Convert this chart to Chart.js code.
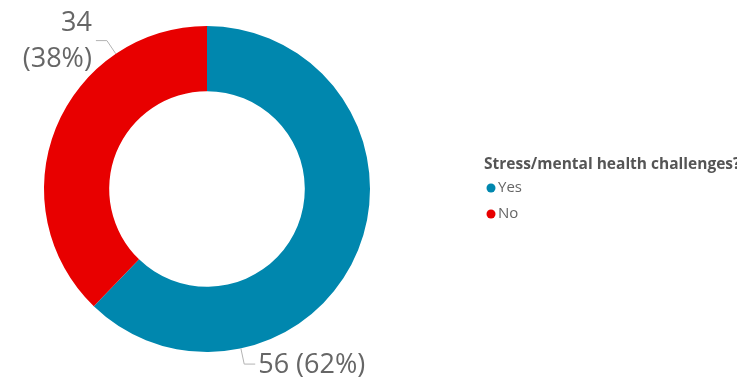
<!DOCTYPE html>
<html>
<head>
<meta charset="utf-8">
<script src="https://cdn.jsdelivr.net/npm/chart.js@4/dist/chart.umd.min.js"></script>
<style>
  html, body { margin: 0; padding: 0; background: #fff; }
  #wrap { position: relative; width: 737px; height: 385px; overflow: hidden; }
</style>
</head>
<body>
<div id="wrap"><canvas id="chart" width="737" height="385"></canvas></div>
<script>
// Survey answers
const legendTitle = 'Stress/mental health challenges?';
const categories = ['Yes', 'No'];
const counts = [56, 34];
const colors = ['#0087AE', '#E80000'];

const FONT = "'Segoe UI', 'Open Sans', sans-serif";
const LABEL_COLOR = '#666666';

// Data labels with short elbow leader lines
const sliceLabels = {
    id: 'sliceLabels',
    afterDatasetsDraw(chart) {
        const ctx = chart.ctx;
        const meta = chart.getDatasetMeta(0);
        const total = counts.reduce((a, b) => a + b, 0);
        ctx.save();
        ctx.font = '27px ' + FONT;
        ctx.fillStyle = LABEL_COLOR;
        ctx.strokeStyle = '#b3b3b3';
        ctx.lineWidth = 1;
        meta.data.forEach((arc, i) => {
            const p = arc.getProps(['x', 'y', 'startAngle', 'endAngle', 'outerRadius'], true);
            const a = p.startAngle + 0.75 * (p.endAngle - p.startAngle);
            const x0 = p.x + Math.cos(a) * p.outerRadius;
            const y0 = p.y + Math.sin(a) * p.outerRadius;
            const x1 = p.x + Math.cos(a) * (p.outerRadius + 16);
            const y1 = p.y + Math.sin(a) * (p.outerRadius + 16);
            const right = x1 >= p.x;
            const x2 = x1 + (right ? 11 : -11);
            ctx.beginPath();
            ctx.moveTo(x0, y0);
            ctx.lineTo(x1, y1);
            ctx.lineTo(x2, y1);
            ctx.stroke();

            const pct = Math.round(counts[i] / total * 100);
            const text = counts[i] + ' (' + pct + '%)';
            const tx = right ? x2 + 3 : x2 - 4;
            ctx.textAlign = right ? 'left' : 'right';
            ctx.textBaseline = 'middle';
            const w = ctx.measureText(text).width;
            const fits = right ? tx + w < chart.width : tx - w > 0;
            if (fits) {
                ctx.fillText(text, tx, y1 + 1);
            } else {
                ctx.fillText(String(counts[i]), tx, y1 - 17);
                ctx.fillText('(' + pct + '%)', tx, y1 + 19);
            }
        });
        ctx.restore();
    }
};

// Legend block on the right
const sideLegend = {
    id: 'sideLegend',
    afterDraw(chart) {
        const ctx = chart.ctx;
        const x = 484;
        ctx.save();
        ctx.textBaseline = 'middle';
        ctx.textAlign = 'left';
        ctx.font = 'bold 15.5px ' + FONT;
        ctx.fillStyle = '#555555';
        ctx.fillText(legendTitle, x, 165);
        ctx.font = '15px ' + FONT;
        categories.forEach((c, i) => {
            const y = 188 + i * 26;
            ctx.beginPath();
            ctx.fillStyle = colors[i];
            ctx.arc(x + 7, y, 4.5, 0, Math.PI * 2);
            ctx.fill();
            ctx.fillStyle = LABEL_COLOR;
            ctx.fillText(c, x + 14, y);
        });
        ctx.restore();
    }
};

new Chart(document.getElementById('chart'), {
    type: 'doughnut',
    data: {
        labels: categories,
        datasets: [{
            data: counts,
            backgroundColor: colors,
            borderWidth: 0
        }]
    },
    options: {
        responsive: false,
        animation: false,
        cutout: '60%',
        layout: { padding: { left: 44, right: 367, top: 26, bottom: 33 } },
        plugins: {
            legend: { display: false },
            tooltip: { enabled: false }
        }
    },
    plugins: [sliceLabels, sideLegend]
});
</script>
</body>
</html>
